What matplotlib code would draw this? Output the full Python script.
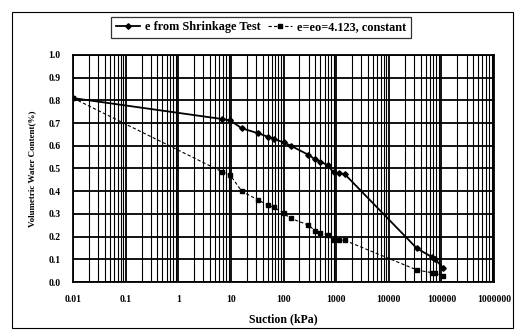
import matplotlib
matplotlib.use("Agg")
import matplotlib.pyplot as plt
from matplotlib.patches import Rectangle
from matplotlib.ticker import LogLocator, FixedLocator, FuncFormatter

plt.rcParams['font.family'] = ['Liberation Serif', 'DejaVu Serif']
plt.rcParams['font.weight'] = 'bold'

# suction values (kPa), shared by both curves
suction = [0.01, 6.7, 9.7, 16, 33, 50, 66, 100, 138, 297, 398, 497, 684,
           890, 1107, 1440, 34200, 66000, 76000, 107000]
# e from shrinkage test
vwc_shrink = [0.81, 0.718, 0.712, 0.677, 0.655, 0.64, 0.63, 0.615, 0.60,
              0.56, 0.54, 0.53, 0.515, 0.483, 0.479, 0.476, 0.148, 0.11,
              0.10, 0.063]
# e = eo = 4.123, constant
vwc_const = [0.81, 0.486, 0.471, 0.40, 0.361, 0.339, 0.329, 0.303, 0.28,
             0.251, 0.225, 0.217, 0.207, 0.185, 0.184, 0.184, 0.053, 0.041,
             0.041, 0.026]

x_ticks = [0.01, 0.1, 1, 10, 100, 1000, 10000, 100000, 1000000]
x_tick_labels = ['0.01', '0.1', '1', '10', '100', '1000', '10000',
                 '100000', '1000000']

fig = plt.figure(figsize=(5.19, 3.31), dpi=100)
ax = fig.add_axes([0.1407, 0.148, 0.8113, 0.686])

# outer frame around the whole chart
fig.patches.append(Rectangle((0.023, 0.01), 0.965, 0.955, transform=fig.transFigure,
                             fill=False, edgecolor='black', linewidth=0.8))

ax.plot(suction, vwc_shrink, '-', color='black', linewidth=1.3,
        marker='D', markersize=2.8, label='e from Shrinkage Test')
ax.plot(suction, vwc_const, '--', color='black', linewidth=0.8,
        marker='s', markersize=3.5, dashes=(3, 2), label='e=eo=4.123, constant')

ax.set_xscale('log')
ax.set_xlim(0.01, 1000000)
ax.set_ylim(0, 1.0)
ax.xaxis.set_major_locator(FixedLocator(x_ticks))
ax.xaxis.set_major_formatter(FuncFormatter(
    lambda v, p: x_tick_labels[x_ticks.index(v)] if v in x_ticks else ''))
ax.xaxis.set_minor_locator(LogLocator(base=10, subs=range(2, 10), numticks=100))
ax.set_yticks([i / 10 for i in range(11)])
ax.yaxis.set_major_formatter(FuncFormatter(lambda v, p: '{:.1f}'.format(v)))

ax.grid(which='major', axis='both', color='black', linewidth=1.3)
ax.grid(which='minor', axis='x', color='black', linewidth=0.8)
ax.tick_params(which='both', length=0, labelsize=7, pad=9)
for lbl in ax.get_xticklabels() + ax.get_yticklabels():
    lbl.set_fontweight('bold')
for s in ax.spines.values():
    s.set_linewidth(1.3)

ax.set_xlabel('Suction (kPa)', fontsize=8.5, fontweight='bold', labelpad=7)
ax.set_ylabel('Volumetric Water Content(%)', fontsize=6.5, fontweight='bold',
              labelpad=9)

leg = fig.legend(loc='center', bbox_to_anchor=(0.503, 0.917), ncol=2,
                 fontsize=8.8, frameon=True, fancybox=False, edgecolor='black',
                 handlelength=2.0, handletextpad=0.4, columnspacing=0.6,
                 borderpad=0.4)
leg.get_frame().set_linewidth(0.9)
for t in leg.get_texts():
    t.set_fontweight('bold')

fig.savefig('out.png', dpi=100)
